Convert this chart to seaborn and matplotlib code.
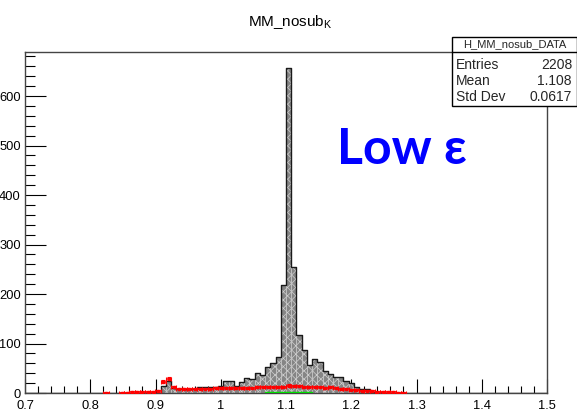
import numpy as np
import pandas as pd
import matplotlib
matplotlib.use("Agg")
import matplotlib.pyplot as plt
import matplotlib.patches as mpatches
from matplotlib.ticker import MultipleLocator
import seaborn as sns

# ---------------- data ----------------
x_lo, x_hi, n_bins = 0.7, 1.5, 100

data_bin_index = list(range(26, 69))
data_counts = [14, 24, 10, 9, 8, 9, 8, 13, 12, 12, 13, 14, 25, 25, 15, 22, 30, 28,
               40, 37, 52, 60, 72, 218, 656, 255, 117, 87, 57, 69, 63, 44, 38, 32,
               33, 25, 20, 13, 8, 9, 3, 1, 2]

red_bin_index = [15, 18, 19, 20, 21, 22, 23, 24, 25, 26, 27, 28, 29, 30, 31, 32, 33,
                 34, 35, 36, 37, 38, 39, 40, 41, 42, 43, 44, 45, 46, 47, 48, 49, 50,
                 51, 52, 53, 54, 55, 56, 57, 58, 59, 60, 61, 62, 63, 64, 65, 66, 67,
                 68, 69, 70, 71, 72]
red_counts = [1, 1, 1, 2, 2, 3, 3, 3, 4, 23, 29, 12, 9, 8, 8, 9, 9,
              9, 9, 10, 10, 10, 10, 11, 11, 11, 11, 12, 12, 12, 13, 13, 12, 15,
              14, 14, 13, 13, 12, 12, 11, 12, 10, 8, 8, 7, 6, 5, 5, 4, 3,
              3, 2, 2, 1, 1]
red_errors = [1.0, 1.0, 1.0, 1.2, 1.2, 1.4, 1.4, 1.4, 1.5, 3.0, 3.2, 2.0, 1.8, 1.7, 1.7, 1.8, 1.8,
              1.8, 1.8, 1.9, 1.9, 1.9, 1.9, 2.0, 2.0, 2.0, 2.0, 2.0, 2.0, 2.0, 2.1, 2.1, 2.0, 2.3,
              2.2, 2.2, 2.1, 2.1, 2.0, 2.0, 2.0, 2.0, 1.9, 1.7, 1.7, 1.6, 1.5, 1.4, 1.4, 1.3, 1.2,
              1.2, 1.1, 1.1, 1.0, 1.0]

green_bin_index = [46, 47, 48, 49, 50, 51, 52, 53, 54]
green_counts = [3, 3, 3, 3, 3, 3, 3, 3, 3]

hist_name = "H_MM_nosub_DATA"
stat_entries = "2208"
stat_mean = "1.108"
stat_std = "0.0617"

# ---------------- derived ----------------
edges = np.linspace(x_lo, x_hi, n_bins + 1)
bw = edges[1] - edges[0]
centers = 0.5 * (edges[:-1] + edges[1:])

df_data = pd.DataFrame({"x": centers[data_bin_index], "w": data_counts})
df_red = pd.DataFrame({"x": centers[red_bin_index], "y": red_counts, "e": red_errors})
df_green = pd.DataFrame({"x": centers[green_bin_index], "w": green_counts})

# ---------------- style ----------------
sns.set_theme(style="white")
plt.rcParams["font.family"] = ["Liberation Sans", "DejaVu Sans"]
plt.rcParams["hatch.color"] = "#c4c4c4"
plt.rcParams["hatch.linewidth"] = 0.5

fig = plt.figure(figsize=(5.77, 4.11), dpi=100)
ax = fig.add_axes([25 / 577, 1 - 393 / 411, (547 - 25) / 577, (393 - 52) / 411])

hist_kw = dict(bins=n_bins, binrange=(x_lo, x_hi), stat="count", ax=ax)

# black data histogram (filled, hatched)
sns.histplot(data=df_data, x="x", weights="w", element="bars", fill=True,
             facecolor="#858585", edgecolor="#d0d0d0", linewidth=0.4,
             hatch="xxxx", alpha=1, **hist_kw)
sns.histplot(data=df_data, x="x", weights="w", element="step", fill=False,
             color="#1a1a1a", linewidth=1.0, **hist_kw)

# green histogram (only over its own bins)
g0, g1 = green_bin_index[0], green_bin_index[-1] + 1
sns.histplot(data=df_green, x="x", weights="w", element="bars", fill=True,
             bins=g1 - g0, binrange=(edges[g0], edges[g1]), stat="count", ax=ax,
             facecolor="#00e000", edgecolor="#00e000", linewidth=1.0, alpha=1,
             zorder=6)

# red points with errors
ax.errorbar(df_red["x"], df_red["y"], xerr=bw / 2, yerr=df_red["e"], fmt="s",
            ms=2.0, color="#ff0000", ecolor="#ff0000", elinewidth=1.1, capsize=1.5,
            capthick=0.8, zorder=5)

ax.set_xlim(x_lo, x_hi)
ax.set_ylim(0, 689)
ax.set_xlabel("")
ax.set_ylabel("")

ax.xaxis.set_minor_locator(MultipleLocator(0.02))
ax.yaxis.set_major_locator(MultipleLocator(100))
ax.yaxis.set_minor_locator(MultipleLocator(20))
ax.set_xticks(np.round(np.arange(0.7, 1.51, 0.1), 1))
ax.set_xticklabels(["0.7", "0.8", "0.9", "1", "1.1", "1.2", "1.3", "1.4", "1.5"])
ax.tick_params(axis="both", which="both", direction="in", colors="black",
               labelsize=9.3, top=False, right=False, bottom=True, left=True)
ax.tick_params(axis="x", which="major", length=10, width=0.8, pad=5)
ax.tick_params(axis="x", which="minor", length=5, width=0.8)
ax.tick_params(axis="y", which="major", length=15, width=0.8, pad=3)
ax.tick_params(axis="y", which="minor", length=7, width=0.8)
for s in ax.spines.values():
    s.set_color("#444444")
    s.set_linewidth(1.0)
    s.set_visible(True)
ax.grid(False)

# title
fig.text(290 / 577, 1 - 22 / 411, r"MM_nosub$_{\mathregular{K}}$", ha="center",
         va="center", fontsize=11, color="black")

# big label
fig.text(337 / 577, 1 - 149 / 411, "Low ε", ha="left", va="center",
         fontsize=36, fontweight="bold", color="#0000ff",
         family=["Lato", "DejaVu Sans"])

# stats box
bx0, bx1 = 452 / 577, 1.0
by_top, by_line, by_bot = 1 - 37 / 411, 1 - 52 / 411, 1 - 106 / 411
fig.patches.append(mpatches.Rectangle((bx0, by_bot), bx1 - bx0, by_top - by_bot,
                   transform=fig.transFigure, facecolor="white",
                   edgecolor="black", linewidth=1.0, zorder=10))
fig.lines.append(plt.Line2D([bx0, bx1], [by_line, by_line], transform=fig.transFigure,
                 color="black", linewidth=1.0, zorder=11))
fig.text((bx0 + bx1) / 2, 1 - 44.5 / 411, hist_name, ha="center", va="center",
         fontsize=8, zorder=12)
rows = [("Entries", stat_entries, 65), ("Mean", stat_mean, 81), ("Std Dev", stat_std, 97)]
for lab, val, ypx in rows:
    fig.text(456 / 577, 1 - ypx / 411, lab, ha="left", va="center", fontsize=10, zorder=12)
    fig.text(572 / 577, 1 - ypx / 411, val, ha="right", va="center", fontsize=10, zorder=12)

fig.savefig("out.png", dpi=100)
